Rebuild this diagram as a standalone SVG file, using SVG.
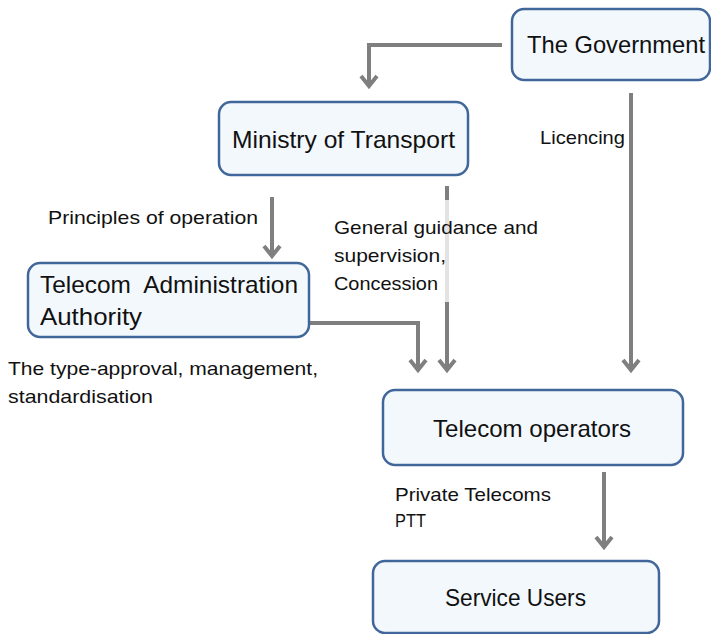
<svg xmlns="http://www.w3.org/2000/svg" width="711" height="634" viewBox="0 0 711 634">
  <style>
    .box { fill: #f3f8fd; stroke: #41679a; stroke-width: 2.5; }
    .title { font-family: "Liberation Sans", Arial, sans-serif; font-size: 24px; fill: #111; }
    .label { font-family: "Liberation Sans", Arial, sans-serif; font-size: 19px; fill: #111; }
    .conn { fill: none; stroke: #7f7f7f; stroke-width: 4; }
    .head { fill: none; stroke: #7f7f7f; stroke-width: 4; }
  </style>
  <rect width="711" height="634" fill="#ffffff"/>

  <g id="connectors">
    <!-- Government to Ministry -->
    <path class="conn" d="M502 45 H369 V86"/>
    <path class="head" d="M361 76 L369 86 L377 76"/>
    <!-- Ministry to Authority -->
    <path class="conn" d="M272 197 V256"/>
    <path class="head" d="M264 246 L272 256 L280 246"/>
    <!-- Government to operators (licencing) -->
    <path class="conn" d="M631 93 V370"/>
    <path class="head" d="M623 360 L631 370 L639 360"/>
    <!-- Ministry to operators (guidance); faded where it passes the label -->
    <path class="conn" d="M447 186 V200"/>
    <path d="M447 200 V302" fill="none" stroke="#e3e3e3" stroke-width="4"/>
    <path class="conn" d="M447 302 V370"/>
    <path class="head" d="M439 360 L447 370 L455 360"/>
    <!-- Authority to operators -->
    <path class="conn" d="M310 323 H418 V370"/>
    <path class="head" d="M410 360 L418 370 L426 360"/>
    <!-- Operators to users -->
    <path class="conn" d="M604 472 V547"/>
    <path class="head" d="M596 537 L604 547 L612 537"/>
  </g>

  <g id="government">
    <rect class="box" x="512" y="9" width="198" height="71" rx="12"/>
    <text class="title" x="527" y="53" textLength="178" lengthAdjust="spacingAndGlyphs">The Government</text>
  </g>
  <g id="ministry">
    <rect class="box" x="219" y="102" width="249" height="73" rx="12"/>
    <text class="title" x="232" y="148" textLength="223" lengthAdjust="spacingAndGlyphs">Ministry of Transport</text>
  </g>
  <g id="authority">
    <rect class="box" x="28" y="263" width="281" height="74" rx="12"/>
    <text class="title" x="40" y="293" xml:space="preserve" textLength="258" lengthAdjust="spacingAndGlyphs">Telecom  Administration</text>
    <text class="title" x="40" y="325" textLength="102" lengthAdjust="spacingAndGlyphs">Authority</text>
  </g>
  <g id="operators">
    <rect class="box" x="383" y="390" width="300" height="75" rx="12"/>
    <text class="title" x="433" y="437" textLength="198" lengthAdjust="spacingAndGlyphs">Telecom operators</text>
  </g>
  <g id="users">
    <rect class="box" x="373" y="561" width="286" height="72" rx="12"/>
    <text class="title" x="445" y="606" textLength="141" lengthAdjust="spacingAndGlyphs">Service Users</text>
  </g>

  <g id="labels">
    <text class="label" x="48" y="224" textLength="210" lengthAdjust="spacingAndGlyphs">Principles of operation</text>
    <text class="label" x="540" y="144" textLength="85" lengthAdjust="spacingAndGlyphs">Licencing</text>
    <text class="label" x="334" y="234" textLength="204" lengthAdjust="spacingAndGlyphs">General guidance and</text>
    <text class="label" x="334" y="262" textLength="112" lengthAdjust="spacingAndGlyphs">supervision,</text>
    <text class="label" x="334" y="290" textLength="104" lengthAdjust="spacingAndGlyphs">Concession</text>
    <text class="label" x="8" y="375" textLength="310" lengthAdjust="spacingAndGlyphs">The type-approval, management,</text>
    <text class="label" x="8" y="403" textLength="145" lengthAdjust="spacingAndGlyphs">standardisation</text>
    <text class="label" x="395" y="501" textLength="156" lengthAdjust="spacingAndGlyphs">Private Telecoms</text>
    <text class="label" x="395" y="527" textLength="31" lengthAdjust="spacingAndGlyphs">PTT</text>
  </g>
</svg>
